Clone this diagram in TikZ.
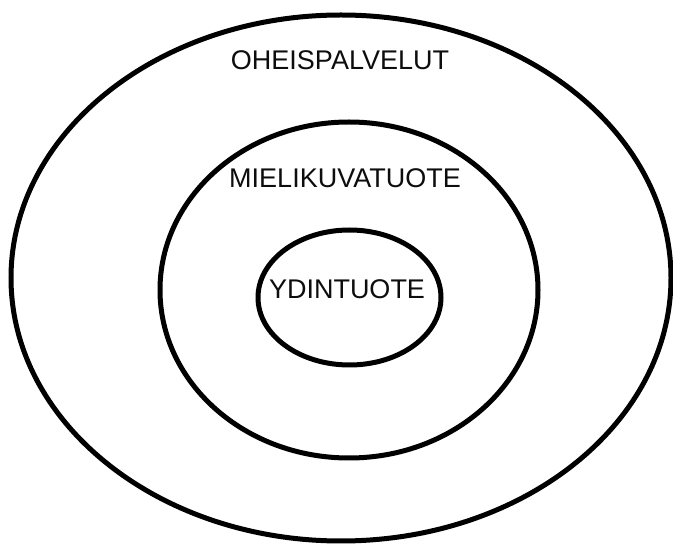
\documentclass[tikz,border=0pt]{standalone}
\usepackage{fontspec}
\setmainfont{Liberation Sans}
\usetikzlibrary{shapes.geometric}
\begin{document}
\begin{tikzpicture}[x=1pt,y=-1pt,
  ring/.style={draw=black, line width=5pt, ellipse, inner sep=0pt},
  lbl/.style={font=\fontsize{27}{31}\selectfont, text=black!95, inner sep=0pt}]
\useasboundingbox (0,0) rectangle (673,545);
\fill[white] (0,0) rectangle (673,545);
\node[ring, minimum width=660pt, minimum height=526pt] (outer) at (341,278) {};
\node[ring, minimum width=378pt, minimum height=336pt] (middle) at (349,290) {};
\node[ring, minimum width=183pt, minimum height=135pt] (inner) at (349.5,297.5) {};
\node[lbl] (t1) at (340,60) {OHEISPALVELUT};
\node[lbl] (t2) at (345,178) {MIELIKUVATUOTE};
\node[lbl] (t3) at (347,289) {YDINTUOTE};
\end{tikzpicture}
\end{document}
